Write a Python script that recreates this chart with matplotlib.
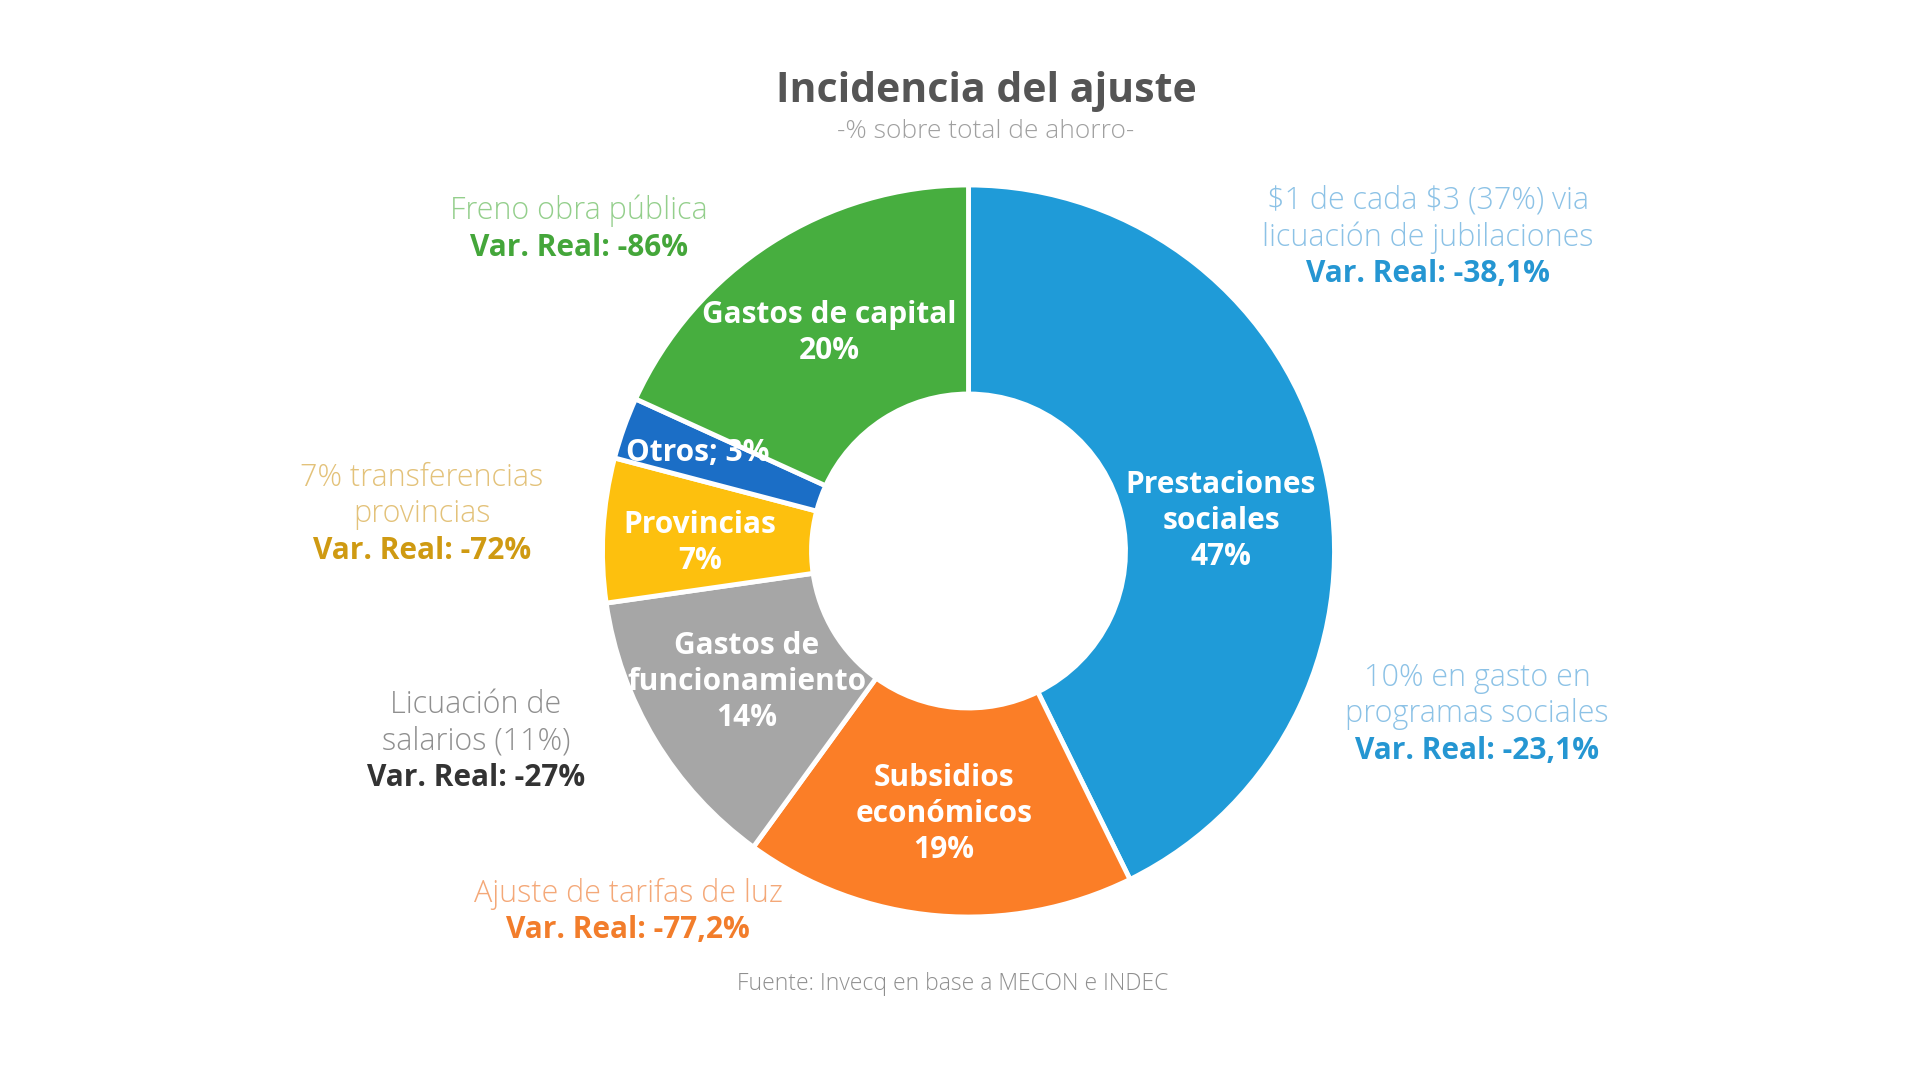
import matplotlib.pyplot as plt

# slice data (labels as printed; values sum to 110 in the source chart)
categories = ["Prestaciones\nsociales", "Subsidios\neconómicos", "Gastos de\nfuncionamiento",
              "Provincias", "Otros", "Gastos de capital"]
shares = [47, 19, 14, 7, 3, 20]
slice_colors = ["#1f9bd8", "#fb7e27", "#a6a6a6", "#fdc00e", "#1b6ec6", "#47ae3f"]

# side notes: light description + bold real variation
note_text = ["\\$1 de cada \\$3 (37%) via\nlicuación de jubilaciones", "10% en gasto en\nprogramas sociales",
             "Ajuste de tarifas de luz", "Licuación de\nsalarios (11%)",
             "7% transferencias\nprovincias", "Freno obra pública"]
note_var = ["-38,1%", "-23,1%", "-77,2%", "-27%", "-72%", "-86%"]
note_light = ["#8cc2e6", "#8cc2e6", "#f4a878", "#8f8f8f", "#e3c27a", "#94cf8c"]
note_bold = ["#2596d2", "#2596d2", "#f27d2b", "#333333", "#cf9a12", "#44a63a"]

W, H = 1920, 1079
CX, CY, R, R_IN = 968.5, 551, 366, 157
FAM = ["Open Sans", "DejaVu Sans"]

fig = plt.figure(figsize=(W / 100, H / 100), dpi=100)
ax = fig.add_axes([0, 0, 1, 1])

ax.pie(shares, colors=slice_colors, startangle=90, counterclock=False,
       radius=R, center=(CX, H - CY),
       wedgeprops=dict(width=R - R_IN, edgecolor="white", linewidth=3.5))
ax.set_xlim(0, W)
ax.set_ylim(0, H)
ax.set_aspect("equal")
ax.axis("off")


def put(x, y, s, **kw):
    ax.text(x, H - y, s, ha="center", va="center", family=FAM, **kw)


# slice labels (pixel positions, y from top)
label_pos = [(1221, 521), (944, 814), (747, 682), (700, 543), (698, 453), (829, 333)]
for (x, y), name, v in zip(label_pos, categories, shares):
    txt = f"{name}; {v}%" if name == "Otros" else f"{name}\n{v}%"
    put(x, y, txt, color="white", fontsize=21.5, fontweight="bold", linespacing=1.25)

# side notes: (x center, y of first light line)
note_pos = [(1428, 201), (1477, 678), (628, 894), (476, 705), (422, 478), (579, 211)]
step = 36.5
for (x, y), t, v, cl, cb in zip(note_pos, note_text, note_var, note_light, note_bold):
    lines = t.split("\n")
    for i, ln in enumerate(lines):
        put(x, y + i * step, ln, color=cl, fontsize=22, fontweight="light")
    put(x, y + len(lines) * step, f"Var. Real: {v}", color=cb, fontsize=21.5, fontweight="bold")

put(986, 92, "Incidencia del ajuste", color="#555555", fontsize=29.5, fontweight="bold")
put(986, 131, "-% sobre total de ahorro-", color="#a0a0a0", fontsize=19, fontweight="light")
put(953, 984, "Fuente: Invecq en base a MECON e INDEC", color="#8f8f8f", fontsize=16.5, fontweight="light")

fig.savefig("out.png", dpi=100, facecolor="white")
